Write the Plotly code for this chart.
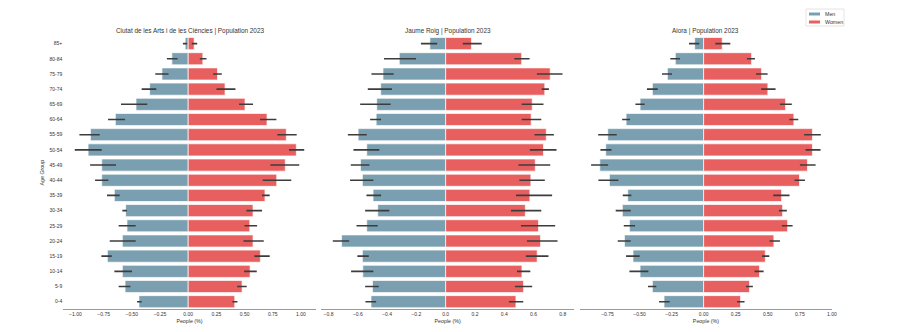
import plotly.graph_objects as go

AGE_GROUPS = ["0-4", "5-9", "10-14", "15-19", "20-24", "25-29", "30-34", "35-39", "40-44",
              "45-49", "50-54", "55-59", "60-64", "65-69", "70-74", "75-79", "80-84", "85+"]

TITLES = [
    "Ciutat de les Arts i de les Ciències | Population 2023",
    "Jaume Roig | Population 2023",
    "Aiora | Population 2023",
]

# values per age group (0-4 .. 85+), men negative; ci low / high from the error bars
ciutat_men = [-0.437, -0.560, -0.584, -0.717, -0.584, -0.543, -0.555, -0.655, -0.767,
              -0.767, -0.888, -0.867, -0.646, -0.463, -0.342, -0.233, -0.145, -0.027]
ciutat_men_lo = [-0.454, -0.617, -0.655, -0.770, -0.696, -0.617, -0.584, -0.720, -0.826,
                 -0.870, -1.006, -0.965, -0.711, -0.596, -0.413, -0.292, -0.189, -0.047]
ciutat_men_hi = [-0.413, -0.513, -0.499, -0.678, -0.466, -0.466, -0.543, -0.608, -0.708,
                 -0.640, -0.767, -0.785, -0.560, -0.363, -0.283, -0.174, -0.094, -0.009]
ciutat_women = [0.413, 0.478, 0.549, 0.640, 0.575, 0.546, 0.575, 0.681, 0.785,
                0.861, 0.959, 0.870, 0.699, 0.504, 0.327, 0.260, 0.130, 0.053]
ciutat_women_lo = [0.392, 0.434, 0.496, 0.587, 0.490, 0.499, 0.516, 0.655, 0.661,
                   0.729, 0.894, 0.791, 0.637, 0.451, 0.251, 0.221, 0.103, 0.032]
ciutat_women_hi = [0.437, 0.519, 0.608, 0.723, 0.670, 0.611, 0.655, 0.723, 0.914,
                   0.985, 1.029, 0.962, 0.782, 0.575, 0.419, 0.298, 0.162, 0.080]

roig_men = [-0.510, -0.500, -0.566, -0.569, -0.711, -0.539, -0.464, -0.496, -0.569,
            -0.582, -0.539, -0.598, -0.475, -0.471, -0.444, -0.428, -0.317, -0.108]
roig_men_lo = [-0.548, -0.550, -0.646, -0.603, -0.771, -0.609, -0.550, -0.541, -0.653,
               -0.648, -0.630, -0.668, -0.516, -0.584, -0.532, -0.507, -0.421, -0.169]
roig_men_hi = [-0.475, -0.457, -0.494, -0.525, -0.659, -0.464, -0.385, -0.441, -0.494,
               -0.521, -0.453, -0.539, -0.441, -0.376, -0.367, -0.355, -0.203, -0.058]
roig_women = [0.480, 0.532, 0.521, 0.625, 0.648, 0.634, 0.544, 0.575, 0.582,
              0.612, 0.668, 0.687, 0.584, 0.591, 0.677, 0.714, 0.519, 0.176]
roig_women_lo = [0.432, 0.473, 0.487, 0.548, 0.555, 0.514, 0.446, 0.480, 0.503,
                 0.497, 0.575, 0.607, 0.519, 0.519, 0.656, 0.623, 0.469, 0.117]
roig_women_hi = [0.530, 0.591, 0.578, 0.702, 0.764, 0.748, 0.653, 0.727, 0.677,
                 0.714, 0.757, 0.739, 0.653, 0.668, 0.705, 0.798, 0.573, 0.246]

aiora_men = [-0.309, -0.400, -0.496, -0.551, -0.618, -0.579, -0.634, -0.592, -0.735,
             -0.810, -0.764, -0.748, -0.605, -0.496, -0.400, -0.283, -0.221, -0.070]
aiora_men_lo = [-0.348, -0.434, -0.579, -0.605, -0.670, -0.623, -0.686, -0.631, -0.821,
                -0.878, -0.805, -0.823, -0.636, -0.532, -0.442, -0.325, -0.260, -0.114]
aiora_men_hi = [-0.265, -0.369, -0.431, -0.499, -0.569, -0.535, -0.569, -0.564, -0.665,
                -0.745, -0.719, -0.678, -0.574, -0.460, -0.358, -0.247, -0.184, -0.034]
aiora_women = [0.288, 0.358, 0.436, 0.481, 0.548, 0.655, 0.616, 0.608, 0.748,
               0.810, 0.849, 0.849, 0.704, 0.639, 0.501, 0.452, 0.374, 0.145]
aiora_women_lo = [0.260, 0.330, 0.397, 0.455, 0.514, 0.610, 0.587, 0.543, 0.709,
                  0.751, 0.795, 0.784, 0.668, 0.595, 0.449, 0.408, 0.338, 0.091]
aiora_women_hi = [0.319, 0.384, 0.468, 0.512, 0.595, 0.694, 0.649, 0.670, 0.790,
                  0.873, 0.912, 0.914, 0.738, 0.688, 0.561, 0.499, 0.400, 0.208]

PANELS = [
    (ciutat_men, ciutat_men_lo, ciutat_men_hi, ciutat_women, ciutat_women_lo, ciutat_women_hi),
    (roig_men, roig_men_lo, roig_men_hi, roig_women, roig_women_lo, roig_women_hi),
    (aiora_men, aiora_men_lo, aiora_men_hi, aiora_women, aiora_women_lo, aiora_women_hi),
]
TICKS = [
    [-1.0, -0.75, -0.5, -0.25, 0.0, 0.25, 0.5, 0.75, 1.0],
    [-0.8, -0.6, -0.4, -0.2, 0.0, 0.2, 0.4, 0.6, 0.8],
    [-0.75, -0.5, -0.25, 0.0, 0.25, 0.5, 0.75, 1.0],
]
TICK_FMT = [".2f", ".1f", ".2f"]

MEN_COLOR = "#7a9fb1"
WOMEN_COLOR = "#e85f5f"
ERR_COLOR = "#3c3c3c"
TEXT = "#333333"

# the page body adds an 8px margin, so the figure is 8px smaller and shifted
OFF = 8
W, H = 899 - OFF, 332 - OFF


def px_x(px):
    return (px - OFF) / W


def px_y(py):
    return (H - (py - OFF)) / H


x_domains = [(63.3, 315.7), (321.3, 574.0), (579.6, 832.3)]
y_domain = [px_y(309.3), px_y(36)]

fig = go.Figure()

for i, (m, mlo, mhi, w, wlo, whi) in enumerate(PANELS):
    xa = "x" if i == 0 else f"x{i + 1}"
    for vals, lo, hi, color in ((m, mlo, mhi, MEN_COLOR), (w, wlo, whi, WOMEN_COLOR)):
        fig.add_trace(go.Bar(
            x=vals, y=AGE_GROUPS, orientation="h", xaxis=xa, yaxis="y",
            width=0.8, showlegend=False,
            marker=dict(color=color, line=dict(color="white", width=0.7)),
            error_x=dict(type="data", symmetric=False,
                         array=[h - v for v, h in zip(vals, hi)],
                         arrayminus=[v - l for v, l in zip(vals, lo)],
                         color=ERR_COLOR, thickness=1.6, width=0),
        ))

    lo_all = min(mlo)
    hi_all = max(whi)
    pad = 0.05 * (hi_all - lo_all)
    d0, d1 = x_domains[i]
    ax = dict(
        domain=[px_x(d0), px_x(d1)], range=[lo_all - pad, hi_all + pad],
        tickvals=TICKS[i], tickformat=TICK_FMT[i], ticks="",
        showgrid=False, zeroline=False, showline=True, linecolor="#9a9a9a", linewidth=1,
        tickfont=dict(size=5, color=TEXT), automargin=False,
        title=dict(text="People (%)", font=dict(size=5.3, color=TEXT), standoff=2),
        anchor="y",
    )
    fig.layout["xaxis" if i == 0 else f"xaxis{i + 1}"] = ax

    fig.add_annotation(
        text=TITLES[i], x=px_x((d0 + d1) / 2), y=px_y(31), xref="paper", yref="paper",
        showarrow=False, xanchor="center", yanchor="middle",
        font=dict(size=6.4, color=TEXT),
    )

fig.update_layout(
    width=W, height=H,
    margin=dict(l=0, r=0, t=0, b=0),
    paper_bgcolor="white", plot_bgcolor="white",
    barmode="overlay", bargap=0.2,
    font=dict(family="Liberation Sans, Arial, sans-serif", color=TEXT),
    yaxis=dict(
        domain=y_domain, categoryorder="array", categoryarray=AGE_GROUPS,
        range=[-0.5, len(AGE_GROUPS) - 0.5],
        showgrid=False, zeroline=False, showline=False, ticks="",
        tickfont=dict(size=5, color=TEXT), automargin=False,
        title=dict(text="Age Group", font=dict(size=5.3, color=TEXT), standoff=4),
    ),
)

# legend drawn by hand so the patches stay as small as in the original
fig.add_shape(type="rect", xref="paper", yref="paper",
              x0=px_x(806), x1=px_x(844), y0=px_y(26), y1=px_y(9),
              line=dict(color="#dddddd", width=0.8), fillcolor="white")
for k, (name, color) in enumerate((("Men", MEN_COLOR), ("Women", WOMEN_COLOR))):
    cy = 14 + 8 * k
    fig.add_shape(type="rect", xref="paper", yref="paper",
                  x0=px_x(809), x1=px_x(820), y0=px_y(cy + 1.5), y1=px_y(cy - 1.5),
                  line=dict(width=0), fillcolor=color)
    fig.add_annotation(text=name, x=px_x(823), y=px_y(cy), xref="paper", yref="paper",
                       showarrow=False, xanchor="left", yanchor="middle",
                       font=dict(size=5.3, color=TEXT))

fig.write_html("out.html")
